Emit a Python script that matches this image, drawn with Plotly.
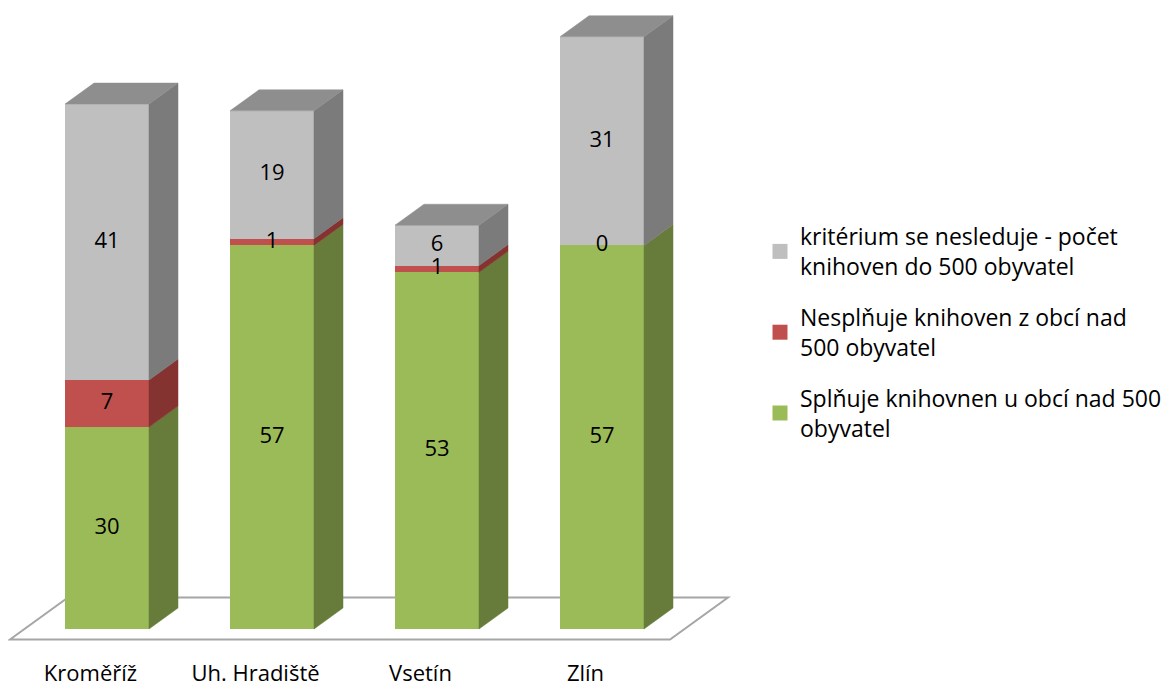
import plotly.graph_objects as go

# ---- data ----
categories = ["Kroměříž", "Uh. Hradiště", "Vsetín", "Zlín"]
splnuje = [30, 57, 53, 57]       # Splňuje knihovnen u obcí nad 500 obyvatel
nesplnuje = [7, 1, 1, 0]         # Nesplňuje knihoven z obcí nad 500 obyvatel
kriterium = [41, 19, 6, 31]      # kritérium se nesleduje - počet knihoven do 500 obyvatel

series_names = [
    "Splňuje knihovnen u obcí nad 500<br>obyvatel",
    "Nesplňuje knihoven z obcí nad<br>500 obyvatel",
    "kritérium se nesleduje - počet<br>knihoven do 500 obyvatel",
]
series_values = [splnuje, nesplnuje, kriterium]

# ---- styles ----
front_colors = ["#9bbb59", "#c0504d", "#bfbfbf"]
side_colors = ["#677c3a", "#843331", "#7b7b7b"]
top_color = "#8e8e8e"
FONT = "Open Sans"
FS = 23

# layout geometry (figure pixels; page has 8px body margin)
FIG_W, FIG_H = 1161, 678
L_MARGIN, PLOT_W = 0, 752
T_MARGIN, PLOT_H = 0, 644
PX_PER_CAT = 165.0
PX_PER_UNIT = 6.73
X0_PX = 99.0       # pixel of first category centre
Y0_PX = 621.0      # pixel of value 0

x_lo = -X0_PX / PX_PER_CAT
x_hi = x_lo + PLOT_W / PX_PER_CAT
y_hi = Y0_PX / PX_PER_UNIT
y_lo = (Y0_PX - PLOT_H) / PX_PER_UNIT

BAR_W = 84 / PX_PER_CAT
DX = 29 / PX_PER_CAT          # depth offset in x units
DY = 21 / PX_PER_UNIT         # depth offset in y units

xs = list(range(len(categories)))
fig = go.Figure()

# front faces (stacked bars)
for vals, col in zip(series_values, front_colors):
    fig.add_trace(go.Bar(x=xs, y=vals, width=BAR_W, marker=dict(color=col, line=dict(width=0)),
                         showlegend=False, hoverinfo="skip"))

# side faces
bases = [0] * len(categories)
label_x, label_y, label_t = [], [], []
for vals, scol in zip(series_values, side_colors):
    px, py = [], []
    for i, v in enumerate(vals):
        b = bases[i]
        label_x.append(i)
        label_y.append(b + v / 2)
        label_t.append(str(v))
        if v > 0:
            xr = i + BAR_W / 2
            px += [xr, xr + DX, xr + DX, xr, xr, None]
            py += [b, b + DY, b + v + DY, b + v, b, None]
        bases[i] = b + v
    fig.add_trace(go.Scatter(x=px, y=py, mode="lines", fill="toself", fillcolor=scol,
                             line=dict(color=scol, width=0.5), showlegend=False, hoverinfo="skip"))

# top faces
tx, ty = [], []
for i, t in enumerate(bases):
    xl, xr = i - BAR_W / 2, i + BAR_W / 2
    tx += [xl, xl + DX, xr + DX, xr, xl, None]
    ty += [t, t + DY, t + DY, t, t, None]
fig.add_trace(go.Scatter(x=tx, y=ty, mode="lines", fill="toself", fillcolor=top_color,
                         line=dict(color=top_color, width=0.5), showlegend=False, hoverinfo="skip"))

# data labels
fig.add_trace(go.Scatter(x=label_x, y=label_y, text=label_t, mode="text",
                         textfont=dict(family=FONT, size=FS - 1, color="#000000"),
                         showlegend=False, hoverinfo="skip"))

# legend entries (top to bottom: gray, red, green)
for k in [2, 1, 0]:
    fig.add_trace(go.Scatter(x=[None], y=[None], mode="markers", name=series_names[k],
                             legendgroup=f"g{k}",
                             marker=dict(symbol="square", size=15, color=front_colors[k])))

# floor
n = len(categories)
fx = [-0.5 - 0.5 * DX, n - 0.5 - 0.5 * DX, n - 0.5 + 1.5 * DX, -0.5 + 1.5 * DX]
fy = [-0.5 * DY, -0.5 * DY, 1.5 * DY, 1.5 * DY]
path = "M {} {} L {} {} L {} {} L {} {} Z".format(fx[0], fy[0], fx[1], fy[1], fx[2], fy[2], fx[3], fy[3])
fig.add_shape(type="path", path=path, xref="x", yref="y", layer="below",
              line=dict(color="#a6a6a6", width=2), fillcolor="#ffffff")

fig.update_layout(
    width=FIG_W, height=FIG_H,
    barmode="stack",
    bargap=0,
    plot_bgcolor="#ffffff", paper_bgcolor="#ffffff",
    margin=dict(l=L_MARGIN, r=FIG_W - PLOT_W - L_MARGIN, t=T_MARGIN, b=FIG_H - PLOT_H - T_MARGIN),
    font=dict(family=FONT, size=FS, color="#000000"),
    xaxis=dict(range=[x_lo, x_hi], showgrid=False, zeroline=False, showline=False,
               tickvals=[i - 0.1 for i in xs], ticktext=categories, ticks="",
               tickfont=dict(family=FONT, size=FS - 1, color="#000000"), ticklabelstandoff=6),
    yaxis=dict(range=[y_lo, y_hi], showgrid=False, zeroline=False, showline=False,
               showticklabels=False, ticks=""),
    legend=dict(x=1.0, xanchor="left", y=1 - 207 / PLOT_H, yanchor="top",
                traceorder="grouped", tracegroupgap=18,
                font=dict(family=FONT, size=FS, color="#000000"),
                bgcolor="rgba(0,0,0,0)"),
    showlegend=True,
)

fig.write_html("out.html")
